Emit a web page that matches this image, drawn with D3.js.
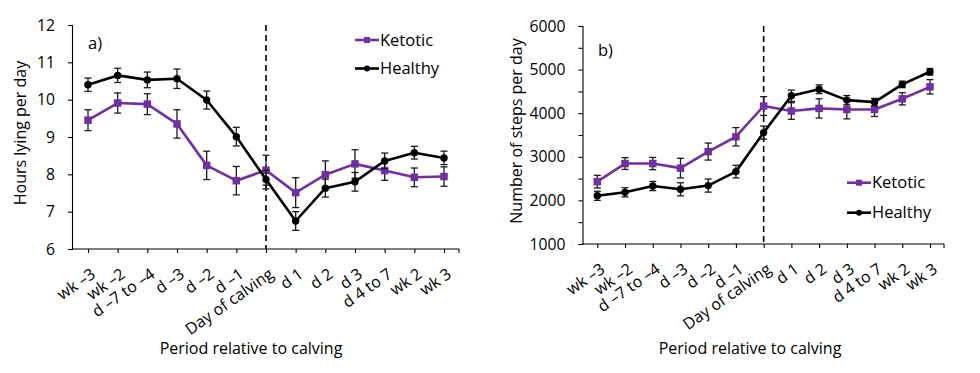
<!DOCTYPE html>
<html>
<head>
<meta charset="utf-8">
<script src="https://cdn.jsdelivr.net/npm/d3@7"></script>
<style>
  html, body { margin: 0; padding: 0; background: #fff; }
  svg { display: block; font-family: "Open Sans", "Liberation Sans", sans-serif; }
</style>
</head>
<body>
<svg id="chart" width="980" height="373"></svg>
<script>
// ---- data ----
const categories = ["wk \u20133", "wk \u20132", "d \u20137 to \u20134", "d \u20133", "d \u20132", "d \u20131",
  "Day of calving", "d 1", "d 2", "d 3", "d 4 to 7", "wk 2", "wk 3"];
const seriesNames = ["Ketotic", "Healthy"];

const lyingKetotic   = [9.45, 9.91, 9.88, 9.35, 8.24, 7.83, 8.11, 7.51, 7.99, 8.28, 8.10, 7.92, 7.94];
const lyingKetoticSE = [0.28, 0.27, 0.28, 0.38, 0.38, 0.38, 0.40, 0.40, 0.37, 0.38, 0.26, 0.25, 0.26];
const lyingHealthy   = [10.40, 10.65, 10.53, 10.56, 9.99, 9.01, 7.86, 6.75, 7.63, 7.80, 8.36, 8.58, 8.44];
const lyingHealthySE = [0.18, 0.19, 0.21, 0.26, 0.24, 0.25, 0.25, 0.25, 0.24, 0.25, 0.21, 0.17, 0.18];

const stepsKetotic   = [2430, 2845, 2845, 2740, 3120, 3460, 4165, 4050, 4110, 4085, 4085, 4330, 4605];
const stepsKetoticSE = [145, 135, 140, 225, 195, 210, 215, 190, 220, 215, 160, 140, 165];
const stepsHealthy   = [2105, 2185, 2330, 2255, 2340, 2660, 3555, 4400, 4550, 4300, 4255, 4660, 4950];
const stepsHealthySE = [105, 105, 105, 150, 150, 145, 150, 130, 100, 105, 85, 75, 75];

const lyingTicks = [6, 7, 8, 9, 10, 11, 12];
const stepsTicks = [1000, 1500, 2000, 2500, 3000, 3500, 4000, 4500, 5000, 5500, 6000];
const stepsLabelTicks = [1000, 2000, 3000, 4000, 5000, 6000];

// ---- style ----
const PURPLE = "#7030A0";
const BLACK = "#000000";

const svg = d3.select("#chart");

function drawPanel(cfg) {
  const g = svg.append("g");
  const x = d3.scalePoint().domain(categories).range([cfg.x0, cfg.x1]);
  const y = d3.scaleLinear().domain(cfg.domain).range([cfg.yBottom, cfg.yTop]);

  // y axis
  const yAxis = d3.axisLeft(y).tickValues(cfg.ticks).tickSizeOuter(0).tickSize(4).tickPadding(13)
    .tickFormat(d => cfg.labelTicks.includes(d) ? d : "");
  const gy = g.append("g").attr("transform", `translate(${cfg.axisX},0)`).call(yAxis);
  gy.selectAll("text").attr("font-size", 15.7).attr("fill", "#000").attr("font-family", "Open Sans");
  gy.selectAll("line, path").attr("stroke", "#000").attr("stroke-width", 1.1);

  // x axis
  const xAxis = d3.axisBottom(x).tickSize(4).tickSizeOuter(0).tickFormat("");
  const gx = g.append("g").attr("transform", `translate(0,${cfg.yBottom})`).call(xAxis);
  gx.select(".domain").attr("d", `M${cfg.axisX},0H${cfg.axisEnd}`);
  gx.append("line").attr("x1", cfg.axisEnd).attr("x2", cfg.axisEnd).attr("y1", 0).attr("y2", 4);
  gx.selectAll("line, path").attr("stroke", "#000").attr("stroke-width", 1.1);

  // category labels
  g.append("g").selectAll("text").data(categories).join("text")
    .attr("transform", d => `translate(${x(d) + 2},${cfg.yBottom + 18}) rotate(-35)`)
    .attr("text-anchor", "end")
    .attr("dy", "0.72em")
    .attr("font-size", 16)
    .attr("fill", "#000")
    .text(d => d);

  // dashed calving line
  g.append("line")
    .attr("x1", x("Day of calving")).attr("x2", x("Day of calving"))
    .attr("y1", cfg.yTop).attr("y2", cfg.yBottom)
    .attr("stroke", "#000").attr("stroke-width", 1.6).attr("stroke-dasharray", "6,4");

  // series
  cfg.series.forEach((s, si) => {
    const pts = categories.map((c, i) => ({ c, v: s.values[i], e: s.se[i] }));
    const sg = g.append("g");
    // error bars
    const eb = sg.append("g").selectAll("g").data(pts).join("g");
    eb.append("line").attr("x1", d => x(d.c)).attr("x2", d => x(d.c))
      .attr("y1", d => y(d.v - d.e)).attr("y2", d => y(d.v + d.e));
    eb.append("line").attr("x1", d => x(d.c) - 3.5).attr("x2", d => x(d.c) + 3.5)
      .attr("y1", d => y(d.v - d.e)).attr("y2", d => y(d.v - d.e));
    eb.append("line").attr("x1", d => x(d.c) - 3.5).attr("x2", d => x(d.c) + 3.5)
      .attr("y1", d => y(d.v + d.e)).attr("y2", d => y(d.v + d.e));
    eb.selectAll("line").attr("stroke", "#1a1a1a").attr("stroke-width", 1.3);
    // line
    sg.append("path").datum(pts)
      .attr("d", d3.line().x(d => x(d.c)).y(d => y(d.v)))
      .attr("fill", "none").attr("stroke", s.color).attr("stroke-width", 2.6)
      .attr("stroke-linejoin", "round");
    // markers
    if (s.shape === "square") {
      sg.append("g").selectAll("rect").data(pts).join("rect")
        .attr("x", d => x(d.c) - 3.75).attr("y", d => y(d.v) - 3.75)
        .attr("width", 7.5).attr("height", 7.5).attr("fill", s.color);
    } else {
      sg.append("g").selectAll("circle").data(pts).join("circle")
        .attr("cx", d => x(d.c)).attr("cy", d => y(d.v)).attr("r", 3.7).attr("fill", s.color);
    }
  });

  // legend
  cfg.series.forEach((s, si) => {
    const ly = cfg.legendY[si];
    const lg = g.append("g");
    lg.append("line").attr("x1", cfg.legendX).attr("x2", cfg.legendX + 24)
      .attr("y1", ly).attr("y2", ly).attr("stroke", s.color).attr("stroke-width", 2.6);
    if (s.shape === "square") {
      lg.append("rect").attr("x", cfg.legendX + 9).attr("y", ly - 3).attr("width", 6).attr("height", 6).attr("fill", s.color);
    } else {
      lg.append("circle").attr("cx", cfg.legendX + 12).attr("cy", ly).attr("r", 3).attr("fill", s.color);
    }
    lg.append("text").attr("x", cfg.legendX + 25).attr("y", ly).attr("dy", "0.35em")
      .attr("font-size", 16.5).attr("fill", "#000").text(seriesNames[si]);
  });

  // panel label
  g.append("text").attr("x", cfg.panelLabelX).attr("y", cfg.panelLabelY).attr("dy", "0.35em")
    .attr("font-size", 16.5).attr("fill", "#000").text(cfg.panelLabel);

  // y title
  g.append("text")
    .attr("transform", `translate(${cfg.yTitleX},${cfg.yTitleY}) rotate(-90)`)
    .attr("text-anchor", "middle").attr("dy", "0.35em")
    .attr("font-size", 16).attr("fill", "#000").text(cfg.yTitle);

  // x title
  g.append("text").attr("x", cfg.xTitleX).attr("y", 348).attr("dy", "0.35em")
    .attr("text-anchor", "middle").attr("font-size", 16).attr("fill", "#000")
    .text("Period relative to calving");
}

drawPanel({
  x0: 88, x1: 444, axisX: 72, axisEnd: 459,
  domain: [6, 12], yBottom: 249, yTop: 25,
  ticks: lyingTicks, labelTicks: lyingTicks,
  series: [
    { values: lyingKetotic, se: lyingKetoticSE, color: PURPLE, shape: "square" },
    { values: lyingHealthy, se: lyingHealthySE, color: BLACK, shape: "circle" }
  ],
  legendX: 355, legendY: [40, 68.5],
  panelLabel: "a)", panelLabelX: 88, panelLabelY: 43,
  yTitle: "Hours lying per day", yTitleX: 20, yTitleY: 133, xTitleX: 251
});

drawPanel({
  x0: 597.3, x1: 930, axisX: 582.5, axisEnd: 944,
  domain: [1000, 6000], yBottom: 244, yTop: 26,
  ticks: stepsTicks, labelTicks: stepsLabelTicks,
  series: [
    { values: stepsKetotic, se: stepsKetoticSE, color: PURPLE, shape: "square" },
    { values: stepsHealthy, se: stepsHealthySE, color: BLACK, shape: "circle" }
  ],
  legendX: 847, legendY: [182.7, 212.7],
  panelLabel: "b)", panelLabelX: 598, panelLabelY: 50,
  yTitle: "Number of steps per day", yTitleX: 516, yTitleY: 131, xTitleX: 750
});
</script>
</body>
</html>
